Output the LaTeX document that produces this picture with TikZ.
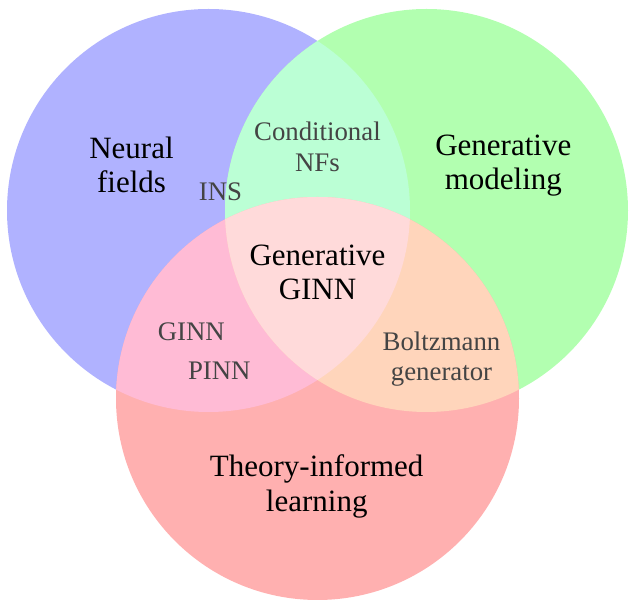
\documentclass[tikz,border=0pt]{standalone}
\usepackage{fontspec}
\setmainfont{Liberation Serif}
\newfontfamily\labelfont{Liberation Serif}
\definecolor{blueC}{RGB}{176,178,255}
\definecolor{greenC}{RGB}{178,255,176}
\definecolor{redC}{RGB}{255,176,176}
\definecolor{bgC}{RGB}{187,255,213}
\definecolor{brC}{RGB}{255,187,213}
\definecolor{grC}{RGB}{255,213,187}
\definecolor{allC}{RGB}{255,218,218}
\definecolor{grayT}{RGB}{68,68,68}
\begin{document}
\begin{tikzpicture}[x=1pt,y=1pt,
  bigtext/.style={font=\labelfont\fontsize{31}{34}\selectfont, text=black, align=center, inner sep=0pt, anchor=base},
  smalltext/.style={font=\labelfont\fontsize{26.8}{31}\selectfont, text=grayT, align=center, inner sep=0pt, anchor=base}]
\useasboundingbox (0,0) rectangle (635,602);
\coordinate (B) at (208.5,391.5);
\coordinate (G) at (426.5,391.5);
\coordinate (R) at (317.5,203.5);
\def\rr{201.5}
\fill[blueC] (B) circle[radius=\rr];
\fill[greenC] (G) circle[radius=\rr];
\fill[redC] (R) circle[radius=\rr];
\begin{scope}
  \clip (B) circle[radius=\rr];
  \fill[bgC] (G) circle[radius=\rr];
  \fill[brC] (R) circle[radius=\rr];
\end{scope}
\begin{scope}
  \clip (G) circle[radius=\rr];
  \fill[grC] (R) circle[radius=\rr];
\end{scope}
\begin{scope}
  \clip (B) circle[radius=\rr];
  \clip (G) circle[radius=\rr];
  \fill[allC] (R) circle[radius=\rr];
\end{scope}
\node[bigtext] (nf) at (131.5,409) {Neural\\fields};
\node[bigtext] (gm) at (503.3,412) {Generative\\modeling};
\node[bigtext] (gg) at (317.5,302) {Generative\\GINN};
\node[bigtext, font=\labelfont\fontsize{31}{35.5}\selectfont] (til) at (316.7,90) {Theory-informed\\learning};
\node[smalltext] (cnf) at (317.4,430.3) {Conditional\\NFs};
\node[smalltext] (ins) at (220.5,401) {INS};
\node[smalltext] (ginn) at (191.3,261.3) {GINN};
\node[smalltext] (pinn) at (219.3,222.7) {PINN};
\node[smalltext, font=\labelfont\fontsize{26.8}{30.3}\selectfont] (bg) at (441.5,221) {Boltzmann\\generator};
\end{tikzpicture}
\end{document}
